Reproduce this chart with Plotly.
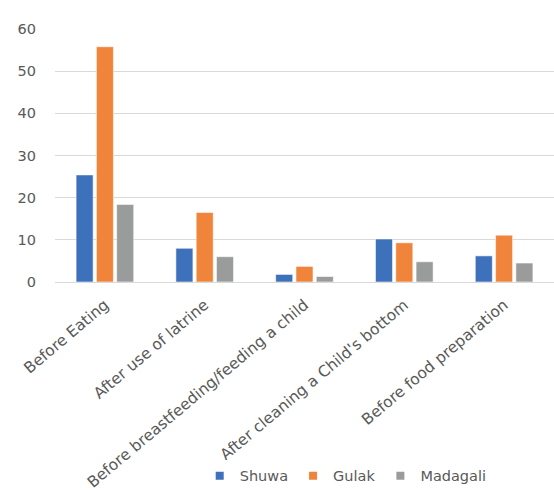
import plotly.graph_objects as go

categories = [
    "Before Eating",
    "After use of latrine",
    "Before breastfeeding/feeding a child",
    "After cleaning a Child's bottom",
    "Before food preparation",
]
shuwa = [25.4, 8.0, 1.8, 10.2, 6.2]
gulak = [55.8, 16.5, 3.7, 9.3, 11.1]
madagali = [18.4, 6.0, 1.3, 4.8, 4.5]

series = [
    ("Shuwa", shuwa, "#3E71BB"),
    ("Gulak", gulak, "#F0843A"),
    ("Madagali", madagali, "#9A9C9C"),
]

fig = go.Figure()
for name, vals, color in series:
    fig.add_trace(go.Bar(
        name=name, x=categories, y=vals,
        marker=dict(color=color, line=dict(color="rgba(255,255,255,0.7)", width=0.8)),
        showlegend=False, legendgroup=name,
    ))
    # small square legend swatch
    fig.add_trace(go.Scatter(
        name=name, x=[None], y=[None], mode="markers",
        marker=dict(symbol="square", size=8, color=color),
        legendgroup=name, showlegend=True,
    ))

font_main = "DejaVu Sans"
fig.update_layout(
    width=554, height=490,
    margin=dict(l=55, r=0, t=29, b=208, autoexpand=False),
    paper_bgcolor="white", plot_bgcolor="white",
    barmode="group", bargap=0.39, bargroupgap=0.16,
    font=dict(family=font_main, size=13, color="#595959"),
    legend=dict(
        orientation="h", xref="container", x=0.624, xanchor="center",
        yref="container", y=0.029, yanchor="middle",
        font=dict(family=font_main, size=14.5, color="#595959"),
        itemwidth=30, tracegroupgap=0,
    ),
)
fig.update_xaxes(
    tickangle=-40, showgrid=False, showline=False, ticks="",
    automargin=False, ticklabelstandoff=10,
    tickfont=dict(family=font_main, size=15.5, color="#595959"),
)
fig.update_yaxes(
    range=[0, 60], dtick=10, showgrid=True, gridcolor="#D9D9D9", gridwidth=1,
    zeroline=True, zerolinecolor="#D9D9D9", zerolinewidth=1, showline=False,
    ticks="", ticklabelstandoff=18, automargin=False,
    tickfont=dict(family=font_main, size=14.5, color="#595959"),
)

fig.write_html("out.html")
